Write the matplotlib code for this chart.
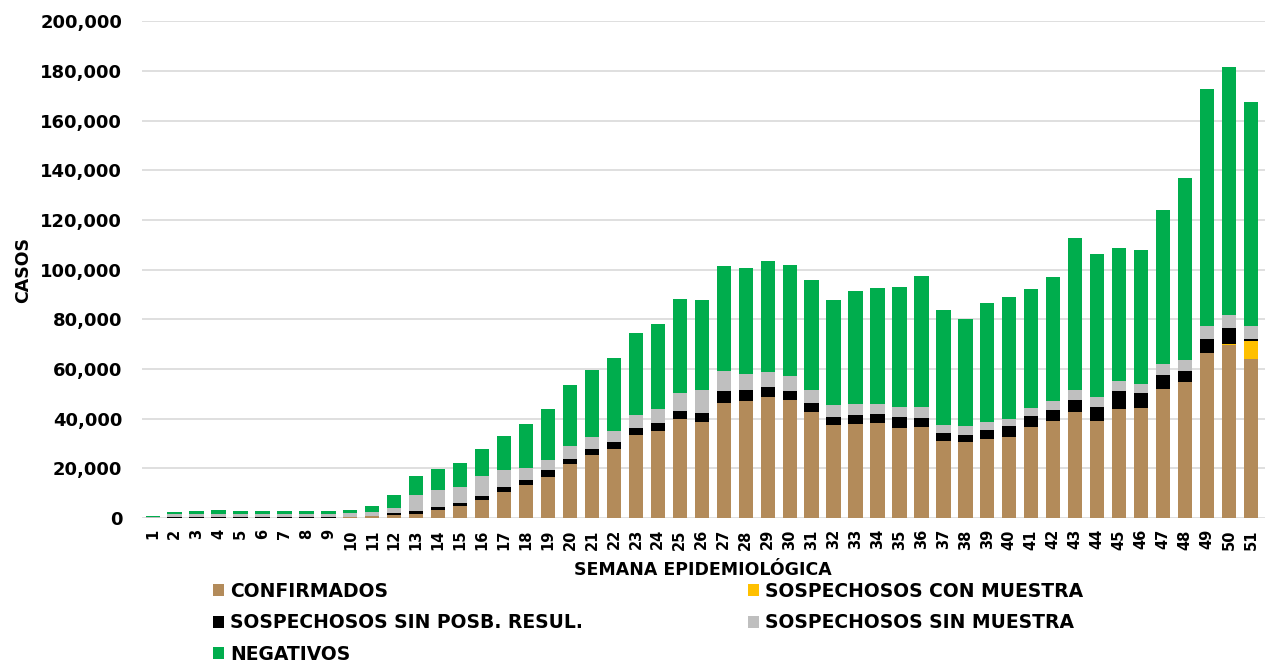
import numpy as np
import matplotlib
matplotlib.use("Agg")
import matplotlib.pyplot as plt
from matplotlib.patches import Patch
from matplotlib.ticker import FuncFormatter

plt.rcParams['font.family'] = ['DejaVu Sans']
plt.rcParams['font.weight'] = 'bold'

weeks = list(range(1, 52))

# values (cases)
confirmados = [100, 200, 200, 200, 200, 200, 200, 200, 200, 300,
               700, 1100, 1700, 3200, 4800, 7300, 10300, 13200, 16400, 21600,
               25500, 27900, 33300, 35000, 39900, 38800, 46500, 47200, 48800, 47600,
               42700, 37600, 38000, 38400, 36300, 36700, 31200, 30400, 31700, 32700,
               36800, 38900, 42500, 38900, 43900, 44100, 52000, 54600, 66400, 69700,
               64100]
con_muestra = [0] * 48 + [150, 250, 7100]
sin_posb = [50, 50, 50, 50, 50, 50, 50, 50, 50, 50,
            300, 900, 1100, 1200, 1200, 1500, 2100, 2000, 2800, 2100,
            2400, 2500, 3000, 3300, 3200, 3400, 4700, 4400, 4100, 3700,
            3700, 3200, 3500, 3600, 4500, 3700, 3200, 3200, 3900, 4200,
            4100, 4400, 5000, 5600, 7200, 6100, 5400, 4700, 5500, 6400,
            1000]
sin_muestra = [300, 1200, 1400, 1400, 1400, 1400, 1400, 1400, 1400, 1500,
               1300, 2100, 6300, 6900, 6500, 8000, 6800, 4800, 4100, 5100,
               4800, 4800, 5200, 5400, 7400, 9300, 7800, 6400, 5800, 6000,
               5200, 4700, 4500, 4000, 4000, 4400, 3200, 3300, 2900, 2800,
               3400, 3700, 3900, 4300, 3900, 3600, 4500, 4500, 5200, 5300,
               4900]
negativos = [500, 800, 1200, 1600, 1200, 1200, 1200, 1200, 1200, 1400,
             2600, 5200, 7700, 8400, 9500, 11100, 13800, 18000, 20700, 24700,
             27000, 29300, 32800, 34400, 37800, 36100, 42600, 42800, 44800, 44600,
             44400, 42100, 45500, 46400, 48000, 52800, 46000, 43200, 48200, 49400,
             48000, 50000, 61500, 57300, 53600, 54200, 62100, 73100, 95400, 99800,
             90300]

series = [
    ("CONFIRMADOS", confirmados, "#B38B5A"),
    ("SOSPECHOSOS CON MUESTRA", con_muestra, "#FFC000"),
    ("SOSPECHOSOS SIN POSB. RESUL.", sin_posb, "#000000"),
    ("SOSPECHOSOS SIN MUESTRA", sin_muestra, "#BFBFBF"),
    ("NEGATIVOS", negativos, "#00AD4D"),
]

fig = plt.figure(figsize=(12.65, 6.62), dpi=100)
ax = fig.add_axes([0.112, 0.2175, 0.888, 0.7505])

bottom = np.zeros(len(weeks))
for name, vals, color in series:
    ax.bar(weeks, vals, width=0.65, bottom=bottom, color=color, zorder=3)
    bottom += np.array(vals)

ax.set_ylim(0, 200000)
ax.set_xlim(0.5, 51.64)
ax.set_yticks(np.arange(0, 200001, 20000))
ax.yaxis.set_major_formatter(FuncFormatter(lambda v, p: "{:,.0f}".format(v)))
ax.set_xticks(weeks)
ax.set_xticklabels([str(w) for w in weeks], rotation=90, fontsize=10.5, fontweight='bold')
for lab in ax.get_yticklabels():
    lab.set_fontsize(13)
    lab.set_fontweight('bold')
ax.tick_params(axis='both', length=0)
ax.tick_params(axis='y', pad=14)
ax.tick_params(axis='x', pad=8)
ax.grid(axis='y', color='#D9D9D9', linewidth=1.2, zorder=0)
for s in ax.spines.values():
    s.set_visible(False)

ax.set_ylabel("CASOS", fontsize=12.5, fontweight='bold', labelpad=6)
ax.set_xlabel("SEMANA EPIDEMIOLÓGICA", fontsize=12.5, fontweight='bold', labelpad=8)

order = [0, 2, 4, 1, 3]
handles = [Patch(facecolor=series[i][2], label=series[i][0]) for i in order]
fig.legend(handles=handles, loc='upper left', bbox_to_anchor=(0.155, 0.147),
           ncol=2, frameon=False, handlelength=0.6, handleheight=0.6,
           handletextpad=0.3, columnspacing=8.8, labelspacing=0.68,
           prop={'weight': 'bold', 'size': 13.5})

fig.savefig("out.png", dpi=100)
